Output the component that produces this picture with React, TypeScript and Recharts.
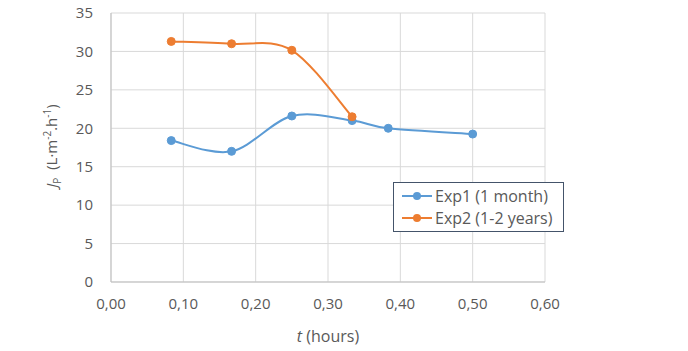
import React from 'react';
import { LineChart, Line, XAxis, YAxis, CartesianGrid } from 'recharts';

const exp1Time = [0.0833, 0.1667, 0.25, 0.3333, 0.3833, 0.5];
const exp1Flux = [18.4, 17.0, 21.6, 21.0, 20.0, 19.25];
const exp2Time = [0.0833, 0.1667, 0.25, 0.3333];
const exp2Flux = [31.3, 31.0, 30.15, 21.5];
const xTicks = [0, 0.1, 0.2, 0.3, 0.4, 0.5, 0.6];
const yTicks = [0, 5, 10, 15, 20, 25, 30, 35];
const seriesNames = ['Exp1 (1 month)', 'Exp2 (1-2 years)'];

const exp1 = exp1Time.map((t, i) => ({ t, v: exp1Flux[i] }));
const exp2 = exp2Time.map((t, i) => ({ t, v: exp2Flux[i] }));

const BLUE = '#5B9BD5';
const ORANGE = '#ED7D31';
const TEXT = '#595959';
const FONT = '"Open Sans", sans-serif';

// Excel-like smoothing (Catmull-Rom through every point)
const smooth = (ctx: any) => {
  let pts: number[][] = [];
  return {
    areaStart() {},
    areaEnd() {},
    lineStart() { pts = []; },
    point(x: number, y: number) { pts.push([+x, +y]); },
    lineEnd() {
      if (!pts.length) return;
      ctx.moveTo(pts[0][0], pts[0][1]);
      for (let i = 0; i < pts.length - 1; i++) {
        const p0 = pts[i - 1] || pts[i];
        const p1 = pts[i];
        const p2 = pts[i + 1];
        const p3 = pts[i + 2] || p2;
        ctx.bezierCurveTo(
          p1[0] + (p2[0] - p0[0]) / 6, p1[1] + (p2[1] - p0[1]) / 6,
          p2[0] - (p3[0] - p1[0]) / 6, p2[1] - (p3[1] - p1[1]) / 6,
          p2[0], p2[1]
        );
      }
    },
  };
};

const YLabel = () => (
  <text transform="translate(57,146) rotate(-90)" textAnchor="middle" fill={TEXT} fontSize={15} fontFamily={FONT}>
    <tspan fontStyle="italic">J</tspan>
    <tspan fontSize={10} dy={4}>P</tspan>
    <tspan dy={-4}>{'\u00a0\u00a0(L·m'}</tspan>
    <tspan fontSize={10} dy={-6}>-2</tspan>
    <tspan dy={6}>.h</tspan>
    <tspan fontSize={10} dy={-6}>-1</tspan>
    <tspan dy={6}>)</tspan>
  </text>
);

const XLabel = () => (
  <text x={328} y={342} textAnchor="middle" fill={TEXT} fontSize={16} fontFamily={FONT}>
    <tspan fontStyle="italic">t</tspan>
    <tspan>{' (hours)'}</tspan>
  </text>
);

const LegendBox = () => (
  <div style={{ position: 'absolute', left: 393, top: 182, width: 171, height: 50, boxSizing: 'border-box', border: '1px solid #44546A', background: '#fff', padding: '2px 8px', fontFamily: FONT, fontSize: 16, color: TEXT, lineHeight: '22px' }}>
    {[BLUE, ORANGE].map((c, i) => (
      <div key={seriesNames[i]} style={{ display: 'flex', alignItems: 'center' }}>
        <svg width={30} height={10} style={{ marginRight: 3 }}>
          <line x1={0} y1={5} x2={30} y2={5} stroke={c} strokeWidth={2} />
          <circle cx={15} cy={5} r={4} fill={c} />
        </svg>
        <span>{seriesNames[i]}</span>
      </div>
    ))}
  </div>
);

export default function App() {
  return (
    <div style={{ position: 'absolute', left: 0, top: 0, width: 688, height: 351, background: '#fff' }}>
      <LineChart width={688} height={351} margin={{ top: 13, right: 143, left: 0, bottom: 39 }}>
        <CartesianGrid stroke="#D9D9D9" strokeWidth={1} />
        <XAxis
          type="number"
          dataKey="t"
          domain={[0, 0.6]}
          ticks={xTicks}
          tickFormatter={(v: number) => v.toFixed(2).replace('.', ',')}
          tick={{ fill: TEXT, fontSize: 15, fontFamily: FONT }}
          tickLine={false}
          axisLine={{ stroke: '#BFBFBF' }}
          tickMargin={10}
          height={30}
          label={<XLabel />}
        />
        <YAxis
          type="number"
          domain={[0, 35]}
          ticks={yTicks}
          tick={{ fill: TEXT, fontSize: 15, fontFamily: FONT }}
          tickLine={false}
          axisLine={{ stroke: '#BFBFBF' }}
          tickMargin={12}
          width={111}
          label={<YLabel />}
        />
        <Line data={exp1} dataKey="v" name={seriesNames[0]} type={smooth as any} stroke={BLUE} strokeWidth={2}
          dot={{ r: 4, fill: BLUE, stroke: BLUE, strokeWidth: 1 }} isAnimationActive={false} />
        <Line data={exp2} dataKey="v" name={seriesNames[1]} type={smooth as any} stroke={ORANGE} strokeWidth={2}
          dot={{ r: 4, fill: ORANGE, stroke: ORANGE, strokeWidth: 1 }} isAnimationActive={false} />
      </LineChart>
      <LegendBox />
    </div>
  );
}
